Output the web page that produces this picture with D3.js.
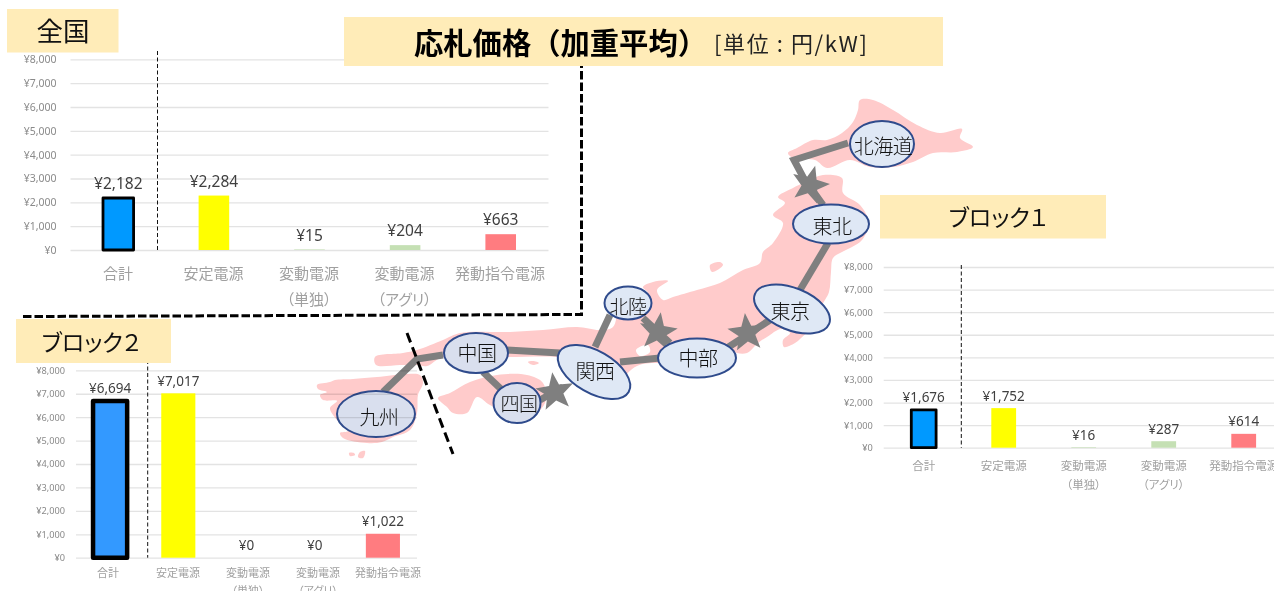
<!DOCTYPE html>
<html><head><meta charset="utf-8">
<script src="https://cdnjs.cloudflare.com/ajax/libs/d3/7.8.5/d3.min.js"></script>
<style>
html,body{margin:0;padding:0;background:#fff;overflow:hidden}
svg{display:block;filter:blur(0.35px)}
text{font-family:"Noto Sans CJK JP","Noto Sans",sans-serif}
.cat,.val,.tick text{font-feature-settings:"palt"}
</style></head><body>
<svg id="c" width="1274" height="591"></svg>
<script>
// ---------- chart data ----------
const categories = ["合計","安定電源","変動電源（単独）","変動電源（アグリ）","発動指令電源"];
const nationalValues = [2182,2284,15,204,663];
const block1Values = [1676,1752,16,287,614];
const block2Values = [6694,7017,0,0,1022];
const yTicks = [0,1000,2000,3000,4000,5000,6000,7000,8000];
const barColors = ["#0099ff","#ffff00","#a9d18e","#c5e0b4","#ff7c80"];

// ---------- map artwork (background picture of Japan) ----------
const hokkaido = [[860,100],[873,100],[893,110],[917,125],[940,133],[962,129],[960,138],[973,147],[957,152],[933,153],[913,162],[893,167],[870,167],[850,160],[827,168],[815,160],[793,158],[788,153],[797,148],[813,140],[827,140],[842,133],[853,122],[858,110]];
const honshu = [[823,175],[842,178],[843,193],[860,205],[869,223],[862,240],[852,247],[842,252],[833,258],[831,272],[829,292],[822,307],[826,322],[807,333],[795,343],[784,347],[783,340],[790,333],[781,329],[767,337],[758,343],[747,353],[737,353],[727,347],[700,368],[657,363],[637,366],[615,385],[600,395],[585,385],[570,360],[557,357],[507,357],[443,357],[427,366],[417,365],[400,365],[376,365],[375,357],[403,353],[417,350],[443,340],[460,333],[510,332],[543,330],[577,327],[600,330],[613,327],[620,308],[640,300],[648,293],[643,287],[653,282],[668,281],[657,290],[663,300],[673,297],[697,290],[720,283],[743,270],[760,263],[763,252],[773,243],[783,223],[773,215],[785,203],[778,197],[793,188],[805,182]];
const kyushu = [[317,385],[330,382],[335,380],[353,379],[377,377],[407,374],[420,375],[423,383],[418,395],[417,413],[410,430],[393,437],[382,442],[367,443],[343,438],[340,433],[348,431],[337,420],[330,408],[337,401],[323,400],[320,395],[327,392],[318,389]];
const shikoku = [[438,398],[450,393],[470,382],[497,375],[527,375],[543,383],[545,403],[523,420],[490,405],[477,397],[467,413],[453,413],[447,407]];
const islands = [[[528,362],[533,361],[539,363],[533,365]],[[710,265],[720,262],[723,265],[712,272]],[[349,453],[354,453],[355,455],[350,456]],[[360,452],[365,451],[363,458],[358,457]]];
const bayHoles = [[[636,350],[648,345],[650,352],[640,356]]];

const grayLinks = [
 [[848,143],[794,160],[803,177],[823,205]],
 [[828,243],[800,290]],
 [[773,318],[727,348]],
 [[643,318],[670,343]],
 [[620,362],[660,358]],
 [[610,315],[595,347]],
 [[507,350],[560,353]],
 [[483,372],[502,390]],
 [[540,400],[563,387]],
 [[443,355],[417,359],[383,392]]
];
const stars = [[810,185,15],[658,332,8],[747,333,-6],[555,392,-8]];
const regions = [
 ["北海道",882,144,32,23,0,"#dfe8f5",883,145,20],
 ["東北",831,224,38,19.5,0,"#dfe8f5",832,225,20],
 ["東京",792,309,40,21,22,"#dfe8f5",790,310,20],
 ["中部",697,358,39,19.5,0,"#dfe8f5",698,357,20],
 ["関西",594,372,40,21,30,"#dfe8f5",595,370,20],
 ["北陸",628,303,23.5,16.5,0,"#dfe8f5",628,305,19],
 ["中国",476,353,32,20,0,"#d9dfee",477,352,20],
 ["四国",517,403,23.5,20,0,"#d9dfee",519,402,19],
 ["九州",376,414,39,23,0,"#d9dfee",379,416,20]
];

const svg = d3.select("#c");
const lineSmooth = d3.line().curve(d3.curveCatmullRomClosed.alpha(0.5));
const linePlain = d3.line();

// map
const mapG = svg.append("g");
mapG.selectAll("path.land").data([hokkaido,honshu,kyushu,shikoku,...islands]).join("path")
  .attr("class","land").attr("d",lineSmooth).attr("fill","#ffcbcb");
mapG.selectAll("path.hole").data(bayHoles).join("path")
  .attr("class","hole").attr("d",lineSmooth).attr("fill","#fff");

// links
svg.append("g").selectAll("path").data(grayLinks).join("path")
  .attr("d",linePlain).attr("fill","none").attr("stroke","#7f7f7f")
  .attr("stroke-width",7).attr("stroke-linejoin","miter");

// stars
const starPath = d3.lineRadial().curve(d3.curveLinearClosed)
  .angle(d=>d[0]).radius(d=>d[1]);
const starPts = d3.range(10).map(i=>[i*Math.PI/5, i%2?8.5:20]);
svg.append("g").selectAll("path").data(stars).join("path")
  .attr("d",starPath(starPts))
  .attr("transform",d=>`translate(${d[0]},${d[1]}) rotate(${d[2]})`)
  .attr("fill","#7f7f7f");

// regions
const reg = svg.append("g");
reg.selectAll("ellipse").data(regions).join("ellipse")
  .attr("transform",d=>`translate(${d[1]},${d[2]}) rotate(${d[5]})`)
  .attr("rx",d=>d[3]).attr("ry",d=>d[4]).attr("fill",d=>d[6])
  .attr("stroke","#2f4b8c").attr("stroke-width",2);
reg.selectAll("text").data(regions).join("text")
  .attr("x",d=>d[7]).attr("y",d=>d[8]).attr("font-size",d=>d[9])
  .attr("text-anchor","middle").attr("dominant-baseline","central")
  .attr("fill","#111").attr("font-weight",300).style("letter-spacing","-0.5px")
  .text(d=>d[0]);

// charts
function drawChart(o){
  const x = d3.scaleBand().domain(categories).range(o.xr).paddingInner(o.pad).paddingOuter(o.pad/2);
  const xLabel = d3.scalePoint().domain(categories).range(o.labelXr);
  const y = d3.scaleLinear().domain([0,8000]).range(o.yr);
  const g = svg.append("g");
  const axis = d3.axisLeft(y).tickValues(yTicks).tickSize(-(o.xr[1]-o.xr[0]))
    .tickPadding(o.tickPad).tickFormat(v=>"¥"+d3.format(",")(v));
  const ax = g.append("g").attr("transform",`translate(${o.xr[0]},0)`).call(axis);
  ax.select(".domain").remove();
  ax.selectAll("line").attr("stroke","rgba(0,0,0,0.11)").attr("stroke-width",1.3);
  ax.selectAll("text").attr("fill","#8a8a8a").attr("font-size",o.tickFont)
    .style("font-family","'Noto Sans',sans-serif");
  g.append("line").attr("x1",o.divX).attr("x2",o.divX).attr("y1",o.divTop).attr("y2",o.yr[0])
    .attr("stroke","#111").attr("stroke-width",1).attr("stroke-dasharray","4 2.5");
  g.selectAll("rect").data(o.values).join("rect")
    .attr("x",(d,i)=>x(categories[i])).attr("width",x.bandwidth())
    .attr("y",d=>y(d)).attr("height",d=>y(0)-y(d))
    .attr("fill",(d,i)=>i===0?o.firstFill:barColors[i])
    .attr("stroke",(d,i)=>i===0?"#000":(i===2&&d===0?barColors[2]:"none"))
    .attr("stroke-width",(d,i)=>i===0?o.firstStroke:(i===2&&d===0?0.8:0))
    .attr("stroke-linejoin","round");
  g.selectAll("text.val").data(o.values).join("text").attr("class","val")
    .attr("x",(d,i)=>x(categories[i])+x.bandwidth()/2)
    .attr("y",d=>y(d)-o.valDy).attr("text-anchor","middle").attr("dominant-baseline","central")
    .attr("font-size",o.valFont).attr("fill","#404040")
    .style("font-family","'Noto Sans',sans-serif")
    .text(d=>"¥"+d3.format(",")(d));
  const split = s=>{const m=s.match(/^(.*?)(（.*）)$/);return m?[m[1],m[2]]:[s,""];};
  [0,1].forEach(k=>{
    g.selectAll("text.cat"+k).data(categories).join("text").attr("class","cat cat"+k)
      .attr("x",d=>xLabel(d)).attr("y",o.catY[k])
      .attr("text-anchor","middle").attr("dominant-baseline","central")
      .attr("font-size",o.catFont).attr("fill","#a0a0a0")
      .text(d=>split(d)[k]);
  });
}
drawChart({values:nationalValues,xr:[70.5,548.5],labelXr:[118,500],yr:[250,59.3],pad:.68,tickPad:14,tickFont:10.5,
  divX:157.5,divTop:51,firstFill:"#0099ff",firstStroke:2.8,valDy:15,valFont:15.5,catFont:15,catY:[272.5,298]});
drawChart({values:block1Values,xr:[883.7,1283.7],labelXr:[923.7,1243.7],yr:[447.7,267],pad:.69,tickPad:11,tickFont:9.2,
  divX:961.3,divTop:265,firstFill:"#0099ff",firstStroke:2.8,valDy:12.5,valFont:13.5,catFont:11.5,catY:[465,484]});
drawChart({values:block2Values,xr:[76,417],labelXr:[108,388],yr:[557.7,370.3],pad:.5,tickPad:11,tickFont:9.2,
  divX:147.7,divTop:360,firstFill:"#3399ff",firstStroke:4.5,valDy:12.5,valFont:13.5,catFont:11,catY:[572,590]});

// dashed frame and divider
svg.append("path").attr("d",linePlain([[23,316.5],[581.5,314.5],[581.5,64]]))
  .attr("fill","none").attr("stroke","#000").attr("stroke-width",3).attr("stroke-dasharray","8.5 3");
svg.append("path").attr("d",linePlain([[407,333],[453,454]]))
  .attr("fill","none").attr("stroke","#000").attr("stroke-width",3).attr("stroke-dasharray","10 5.2");

// heading boxes
const boxes = [
 [7,9,111.5,43.5,"全国",63,29.5,26.5],
 [880,195,226,43.5,"ブロック１",998,215.5,23],
 [16,319,155,44,"ブロック２",91,340.5,23]
];
const bg = svg.append("g");
bg.selectAll("rect").data([...boxes,[344,17,599,49]]).join("rect")
  .attr("x",d=>d[0]).attr("y",d=>d[1]).attr("width",d=>d[2]).attr("height",d=>d[3]).attr("fill","#ffecb8");
bg.selectAll("text.h").data(boxes).join("text").attr("class","h")
  .attr("x",d=>d[5]).attr("y",d=>d[6]).attr("font-size",d=>d[7])
  .attr("text-anchor","middle").attr("dominant-baseline","central").attr("fill","#111")
  .style("font-feature-settings",'"palt"').text(d=>d[4]);
bg.append("text").attr("x",414).attr("y",40.5).attr("font-size",29.3).attr("font-weight",700)
  .attr("dominant-baseline","central").attr("fill","#000").text("応札価格（加重平均）");
bg.append("text").attr("x",714).attr("y",42).attr("font-size",22)
  .attr("dominant-baseline","central").attr("fill","#222").style("letter-spacing","1.6px").text("[単位 : 円/kW]");
</script>
</body></html>
